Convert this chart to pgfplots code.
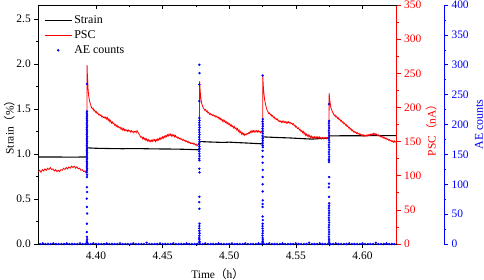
\documentclass[border=0pt]{standalone}
\usepackage{fontspec}
\setmainfont{Liberation Serif}
\newfontfamily\cjk{Noto Sans CJK SC}
\usepackage{pgfplots}
\pgfplotsset{compat=1.18}
\usetikzlibrary{calc}
\pgfplotsset{
  strainleg/.style={legend image code/.code={\draw[black, line width=1.1bp] (0bp,0bp) -- (27bp,0bp);}},
  pscleg/.style={legend image code/.code={\draw[red, line width=0.9bp] (0bp,0bp) -- (27bp,0bp);}},
  aeleg/.style={legend image code/.code={\fill[blue] (13.5bp,0bp) circle (1bp);}},
}
\begin{document}
\begin{tikzpicture}
\pgfplotsset{
  base/.style={width=358.4bp, height=239bp, scale only axis,
    xmin=4.3567, xmax=4.6257,
    /pgf/number format/assume math mode=true,
    font=\fontsize{11.5}{13}\selectfont,
    major tick length=4bp, minor tick length=2bp, tick align=outside,
    every tick/.style={line width=0.6bp},
    label style={font=\fontsize{12}{14}\selectfont}},
}
% ---------- main axis: strain ----------
\begin{axis}[base, name=main,
  ymin=0, ymax=2.654,
  xtick={4.40,4.45,4.50,4.55,4.60}, minor x tick num=1,
  ytick={0,0.5,1,1.5,2,2.5}, minor y tick num=1,
  xtick pos=bottom, ytick pos=left,
  scaled ticks=false,
  xticklabel style={/pgf/number format/.cd, fixed, fixed zerofill, precision=2},
  yticklabel style={/pgf/number format/.cd, fixed, fixed zerofill, precision=1},
  xlabel={Time{\cjk（}h{\cjk）}},
  ylabel={Strain{\cjk（}\%{\cjk）}},
  every axis x label/.style={at={(axis description cs:0.5,0)}, anchor=center, yshift=-30bp},
  every axis y label/.style={at={(axis description cs:0,0.5)}, rotate=90, anchor=center, yshift=29bp},
  axis line style={line width=0.8bp},
  legend cell align=left,
  legend style={at={(0.013,0.968)}, anchor=north west, draw=none, fill=none,
    font=\fontsize{12}{14}\selectfont, row sep=1.5bp, inner sep=1bp},
]
\addplot[black, line width=1.1bp, strainleg] coordinates {
(4.3567,0.966)(4.3700,0.966)(4.3800,0.965)(4.3931,0.966)
(4.3933,1.068)(4.4000,1.063)(4.4100,1.060)(4.4200,1.058)(4.4300,1.060)(4.4400,1.057)
(4.4500,1.055)(4.4600,1.054)(4.4700,1.050)(4.4775,1.046)
(4.4777,1.138)(4.4850,1.133)(4.4950,1.128)(4.5000,1.131)(4.5050,1.127)(4.5150,1.120)(4.5250,1.112)
(4.5252,1.190)(4.5350,1.183)(4.5450,1.178)(4.5550,1.170)(4.5620,1.165)(4.5700,1.172)(4.5748,1.176)
(4.5750,1.201)(4.5900,1.202)(4.6100,1.203)(4.6257,1.203)
};
\addlegendentry{Strain}
\addlegendimage{pscleg}
\addlegendentry{PSC}
\addlegendimage{aeleg}
\addlegendentry{AE counts}
\end{axis}
% ---------- PSC axis ----------
\begin{axis}[base, at={(main.south west)}, anchor=south west,
  ymin=0, ymax=350, hide x axis, axis y line*=right,
  ytick={0,50,100,150,200,250,300,350}, minor y tick num=1,
  y axis line style={red, line width=0.8bp},
  ytick style={red}, yticklabel style={red},
  ylabel={PSC{\cjk（}nA{\cjk）}},
  every axis y label/.style={at={(axis description cs:1,0.5)}, rotate=90, anchor=center, yshift=-34.5bp, xshift=-3bp, red},
]
\addplot[red, line width=0.8bp] coordinates {
(4.3567,106)(4.3577,108)(4.3587,105)(4.3597,109)(4.3607,107)(4.3617,110)(4.3627,108)(4.3637,111)(4.3647,109)(4.3657,112)
(4.3667,109)(4.3677,110)(4.3687,107)(4.3697,109)(4.3707,106)(4.3717,108)(4.3727,106)(4.3737,109)(4.3747,108)(4.3757,111)
(4.3767,109)(4.3777,112)(4.3787,110)(4.3797,113)(4.3807,111)(4.3817,114)(4.3827,112)(4.3837,114)(4.3847,111)(4.3857,113)
(4.3867,110)(4.3877,111)(4.3887,108)(4.3897,109)(4.3907,106)(4.3917,107)(4.3927,104)(4.3931,106)
(4.3933,262)(4.3935,250)(4.3938,238)(4.3941,226)(4.3945,217)(4.3950,211)(4.3955,207)(4.3960,204)(4.3966,200)(4.3972,198)
(4.3978,199)(4.3984,195)(4.3990,196)(4.3996,193)(4.4002,194)(4.4008,191)(4.4014,192)(4.4020,189)(4.4026,190)(4.4032,188)
(4.4038,189)(4.4044,186)(4.4050,187)(4.4056,185)(4.4062,186)(4.4068,184)(4.4074,186)(4.4080,183)(4.4086,185)(4.4092,181)
(4.4098,183)(4.4104,179)(4.4110,181)(4.4116,177)(4.4122,179)(4.4128,176)(4.4134,177)(4.4140,174)(4.4146,175)(4.4152,172)
(4.4158,174)(4.4164,171)(4.4170,172)(4.4176,170)(4.4182,171)(4.4188,168)(4.4194,170)(4.4200,167)(4.4206,169)(4.4212,166)
(4.4218,168)(4.4224,166)(4.4230,167)(4.4236,165)(4.4242,167)(4.4248,165)(4.4254,166)(4.4260,164)(4.4266,166)(4.4272,164)
(4.4278,165)(4.4284,163)(4.4290,165)(4.4296,165)(4.4302,163)(4.4308,166)(4.4314,164)(4.4320,162)(4.4326,160)(4.4332,158)
(4.4338,156)(4.4344,157)(4.4350,154)(4.4356,156)(4.4362,153)(4.4368,155)(4.4374,152)(4.4380,154)(4.4386,151)(4.4392,153)
(4.4398,150)(4.4404,152)(4.4410,150)(4.4416,152)(4.4422,150)(4.4428,153)(4.4434,151)(4.4440,153)(4.4446,150)(4.4452,153)
(4.4458,151)(4.4464,154)(4.4470,152)(4.4476,155)(4.4482,153)(4.4488,156)(4.4494,154)(4.4500,157)(4.4506,155)(4.4512,158)
(4.4518,156)(4.4524,159)(4.4530,157)(4.4536,160)(4.4542,158)(4.4548,161)(4.4554,159)(4.4560,161)(4.4566,158)(4.4572,160)
(4.4578,158)(4.4584,160)(4.4590,157)(4.4596,159)(4.4602,156)(4.4608,157)(4.4614,155)(4.4620,156)(4.4626,154)(4.4632,155)
(4.4638,153)(4.4644,154)(4.4650,152)(4.4656,153)(4.4662,151)(4.4668,152)(4.4674,150)(4.4680,151)(4.4686,149)(4.4692,150)
(4.4698,148)(4.4704,149)(4.4710,147)(4.4716,148)(4.4722,147)(4.4728,148)(4.4734,146)(4.4740,147)(4.4746,145)(4.4752,146)
(4.4758,144)(4.4764,145)(4.4770,147)(4.4775,148)
(4.4777,150)(4.4778,238)(4.4780,230)(4.4783,222)(4.4787,214)(4.4792,207)(4.4798,203)(4.4804,200)(4.4810,198)(4.4816,196)
(4.4822,197)(4.4828,194)(4.4834,195)(4.4840,192)(4.4846,193)(4.4852,190)(4.4858,191)(4.4864,189)(4.4870,190)(4.4876,188)
(4.4882,189)(4.4888,187)(4.4894,188)(4.4900,186)(4.4906,187)(4.4912,185)(4.4918,186)(4.4924,183)(4.4930,185)(4.4936,182)
(4.4942,183)(4.4948,180)(4.4954,182)(4.4960,179)(4.4966,181)(4.4972,178)(4.4978,179)(4.4984,176)(4.4990,178)(4.4996,175)
(4.5002,176)(4.5008,173)(4.5014,175)(4.5020,172)(4.5026,173)(4.5032,170)(4.5038,172)(4.5044,169)(4.5050,170)(4.5056,167)
(4.5062,169)(4.5068,165)(4.5074,167)(4.5080,163)(4.5086,165)(4.5092,161)(4.5098,163)(4.5104,160)(4.5110,162)(4.5116,159)
(4.5122,161)(4.5128,160)(4.5134,162)(4.5140,161)(4.5146,163)(4.5152,162)(4.5158,165)(4.5164,163)(4.5170,166)(4.5176,164)
(4.5182,166)(4.5188,164)(4.5194,166)(4.5200,164)(4.5206,166)(4.5212,164)(4.5218,166)(4.5224,164)(4.5230,165)(4.5236,163)
(4.5242,165)(4.5248,163)(4.5251,162)
(4.5252,247)(4.5254,238)(4.5257,228)(4.5261,219)(4.5266,211)(4.5272,205)(4.5278,200)(4.5284,196)(4.5290,194)(4.5296,191)
(4.5302,192)(4.5308,189)(4.5314,190)(4.5320,187)(4.5326,188)(4.5332,185)(4.5338,186)(4.5344,183)(4.5350,184)(4.5356,182)
(4.5362,183)(4.5368,180)(4.5374,181)(4.5380,179)(4.5386,180)(4.5392,178)(4.5398,180)(4.5404,178)(4.5410,180)(4.5416,178)
(4.5422,179)(4.5428,177)(4.5434,179)(4.5440,177)(4.5446,179)(4.5452,177)(4.5458,178)(4.5464,176)(4.5470,177)(4.5476,175)
(4.5482,176)(4.5488,173)(4.5494,174)(4.5500,171)(4.5506,172)(4.5512,169)(4.5520,170)(4.5526,167)(4.5532,168)(4.5538,165)
(4.5544,166)(4.5550,163)(4.5556,165)(4.5562,161)(4.5568,163)(4.5574,159)(4.5580,161)(4.5586,158)(4.5592,160)(4.5598,157)
(4.5604,159)(4.5610,156)(4.5616,158)(4.5622,155)(4.5628,157)(4.5634,155)(4.5640,157)(4.5646,155)(4.5652,157)(4.5658,155)
(4.5664,157)(4.5670,155)(4.5676,157)(4.5682,155)(4.5688,156)(4.5694,154)(4.5700,156)(4.5706,154)(4.5712,156)(4.5718,155)
(4.5724,156)(4.5730,154)(4.5736,156)(4.5742,155)(4.5748,157)
(4.5749,158)(4.5750,221)(4.5752,216)(4.5755,210)(4.5759,204)(4.5764,199)(4.5770,196)(4.5776,193)(4.5782,191)(4.5788,188)
(4.5794,189)(4.5800,186)(4.5806,187)(4.5812,184)(4.5818,185)(4.5824,182)(4.5830,183)(4.5836,180)(4.5842,181)(4.5848,178)
(4.5854,179)(4.5860,176)(4.5866,177)(4.5872,174)(4.5878,175)(4.5884,172)(4.5890,173)(4.5896,170)(4.5902,171)(4.5908,168)
(4.5914,169)(4.5920,166)(4.5926,167)(4.5932,164)(4.5938,165)(4.5944,163)(4.5950,164)(4.5956,162)(4.5962,163)(4.5968,161)
(4.5974,162)(4.5980,160)(4.5986,161)(4.5992,159)(4.5998,160)(4.6004,158)(4.6010,160)(4.6016,158)(4.6022,159)(4.6028,158)
(4.6034,160)(4.6040,158)(4.6046,160)(4.6052,159)(4.6058,161)(4.6064,159)(4.6070,161)(4.6076,160)(4.6082,162)(4.6088,160)
(4.6094,162)(4.6100,160)(4.6106,161)(4.6112,159)(4.6118,160)(4.6124,158)(4.6130,159)(4.6136,157)(4.6142,158)(4.6148,156)
(4.6154,157)(4.6160,155)(4.6166,156)(4.6172,154)(4.6178,155)(4.6184,153)(4.6190,154)(4.6196,152)(4.6202,153)(4.6208,151)
(4.6214,152)(4.6220,150)(4.6226,151)(4.6232,149)(4.6238,151)(4.6244,149)(4.6250,150)(4.6257,149)
};
\end{axis}
% ---------- AE data (aligned with main) ----------
\begin{axis}[base, at={(main.south west)}, anchor=south west,
  ymin=0, ymax=400, hide x axis, hide y axis, clip=false]
\addplot[blue, only marks, mark=*, mark size=1bp] coordinates {
(4.358,0)(4.360,1)(4.362,0)(4.364,0)(4.366,0)(4.368,1)(4.370,0)(4.372,0)(4.374,0)(4.376,0)(4.378,1)(4.380,0)(4.382,0)(4.384,0)
(4.386,0)(4.388,1)(4.390,0)(4.392,0)(4.394,0)(4.396,0)(4.398,1)(4.400,0)(4.402,0)(4.404,0)(4.406,0)(4.408,1)(4.410,0)(4.412,0)
(4.414,0)(4.416,0)(4.418,1)(4.420,0)(4.422,0)(4.424,0)(4.426,0)(4.428,1)(4.430,0)(4.432,0)(4.434,0)(4.436,0)(4.438,2)(4.440,0)
(4.442,0)(4.444,0)(4.446,0)(4.448,1)(4.450,0)(4.452,0)(4.454,0)(4.456,0)(4.458,1)(4.460,0)(4.462,0)(4.464,0)(4.466,0)(4.468,1)
(4.470,0)(4.472,0)(4.474,0)(4.476,0)(4.478,0)(4.480,0)(4.482,1)(4.484,0)(4.486,0)(4.488,0)(4.490,0)(4.492,1)(4.494,0)(4.496,0)
(4.498,0)(4.500,0)(4.502,1)(4.504,0)(4.506,0)(4.508,0)(4.510,0)(4.512,1)(4.514,0)(4.516,0)(4.518,0)(4.520,0)(4.522,1)(4.524,0)
(4.526,0)(4.528,0)(4.530,1)(4.532,0)(4.534,0)(4.536,0)(4.538,0)(4.540,1)(4.542,0)(4.544,0)(4.546,0)(4.548,0)(4.550,1)(4.552,0)
(4.554,0)(4.556,0)(4.558,0)(4.560,2)(4.562,0)(4.564,0)(4.566,0)(4.568,1)(4.570,0)(4.572,0)(4.574,0)(4.576,0)(4.578,0)(4.580,1)
(4.582,0)(4.584,0)(4.586,0)(4.588,0)(4.590,1)(4.592,0)(4.594,0)(4.596,0)(4.598,0)(4.600,1)(4.602,0)(4.604,0)(4.606,0)(4.608,0)
(4.610,2)(4.612,0)(4.614,0)(4.616,0)(4.618,1)(4.620,0)(4.622,0)(4.624,0)
(4.3932,268)(4.3933,222)(4.3931,219)(4.3933,216)(4.3932,213)(4.3931,210)(4.3933,207)(4.3932,204)(4.3931,201)(4.3933,198)
(4.3932,195)(4.3931,192)(4.3933,189)(4.3932,186)(4.3931,183)(4.3933,180)(4.3932,177)(4.3931,174)(4.3933,171)(4.3932,168)
(4.3931,165)(4.3933,162)(4.3932,159)(4.3931,156)(4.3933,153)(4.3932,150)(4.3931,147)(4.3933,144)(4.3932,141)(4.3931,138)
(4.3933,135)(4.3932,132)(4.3931,129)(4.3933,126)(4.3932,123)(4.3931,120)(4.3933,116)(4.3932,112)(4.3932,95)(4.3933,87)
(4.3931,76)(4.3932,62)(4.3933,51)(4.3932,34)(4.3931,20)(4.3932,12)(4.3933,8)(4.3932,5)(4.3931,3)(4.3933,2)
(4.4776,300)(4.4777,286)(4.4776,267)(4.4775,239)(4.4776,211)(4.4777,207)(4.4775,203)(4.4776,199)(4.4777,195)(4.4775,191)
(4.4776,187)(4.4777,183)(4.4775,179)(4.4776,175)(4.4777,171)(4.4775,167)(4.4776,163)(4.4777,159)(4.4775,155)(4.4776,151)
(4.4777,147)(4.4775,143)(4.4776,140)(4.4776,126)(4.4777,120)(4.4776,79)(4.4775,70)(4.4776,59)(4.4777,34)(4.4776,30)
(4.4775,26)(4.4776,22)(4.4777,18)(4.4776,14)(4.4775,10)(4.4776,7)(4.4777,4)(4.4776,2)
(4.5251,282)(4.5252,209)(4.5250,205)(4.5251,201)(4.5252,197)(4.5250,193)(4.5251,189)(4.5252,185)(4.5250,181)(4.5251,177)
(4.5252,173)(4.5250,169)(4.5251,165)(4.5252,162)(4.5251,156)(4.5250,146)(4.5251,136)(4.5252,124)(4.5251,112)(4.5250,100)
(4.5251,88)(4.5252,73)(4.5251,67)(4.5250,62)(4.5251,46)(4.5252,40)(4.5251,34)(4.5250,30)(4.5251,26)(4.5252,22)
(4.5251,18)(4.5250,14)(4.5251,10)(4.5252,7)(4.5251,4)(4.5250,2)
(4.5749,234)(4.5750,206)(4.5748,202)(4.5749,198)(4.5750,194)(4.5748,190)(4.5749,186)(4.5750,182)(4.5748,178)(4.5749,174)
(4.5750,170)(4.5748,166)(4.5749,162)(4.5750,158)(4.5748,154)(4.5749,150)(4.5750,146)(4.5748,142)(4.5749,140)(4.5749,137)
(4.5750,112)(4.5749,101)(4.5748,95)(4.5749,79)(4.5750,68)(4.5749,64)(4.5748,60)(4.5749,56)(4.5750,52)(4.5749,48)
(4.5748,44)(4.5749,40)(4.5750,36)(4.5749,32)(4.5748,28)(4.5749,24)(4.5750,20)(4.5749,16)(4.5748,12)(4.5749,8)
(4.5750,5)(4.5749,2)
};
\end{axis}
% ---------- top ticks (inward) ----------
\begin{axis}[base, at={(main.south west)}, anchor=south west,
  ymin=0, ymax=1, hide y axis, axis x line*=top,
  xtick={4.40,4.45,4.50,4.55,4.60}, minor x tick num=1,
  tick align=inside, xticklabels={,,,,},
  x axis line style={line width=0.8bp}]
\end{axis}
% ---------- AE counts y axis (offset) ----------
\begin{axis}[at={($(main.south east)+(47.3bp,0)$)}, anchor=south east,
  width=10bp, height=239bp, scale only axis,
  xmin=0, xmax=1, ymin=0, ymax=400,
  /pgf/number format/assume math mode=true,
  font=\fontsize{11.5}{13}\selectfont,
  major tick length=4bp, minor tick length=2bp, tick align=outside,
  every tick/.style={line width=0.6bp},
  hide x axis, axis y line*=right,
  ytick={0,50,100,150,200,250,300,350,400}, minor y tick num=1,
  y axis line style={blue, line width=0.8bp},
  ytick style={blue}, yticklabel style={blue},
  ylabel={AE counts},
  every axis y label/.style={at={(axis description cs:1,0.5)}, rotate=90, anchor=center, yshift=-35bp, blue, font=\fontsize{12}{14}\selectfont},
]
\end{axis}
\pgfresetboundingbox
\path ($(main.south west)+(-38.3bp,-36bp)$) rectangle ($(main.south west)+(445.7bp,244bp)$);
\end{tikzpicture}
\end{document}
